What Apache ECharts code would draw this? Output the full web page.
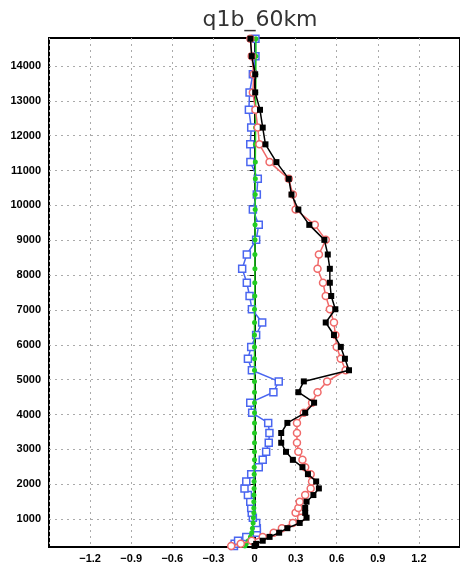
<!DOCTYPE html>
<html>
<head>
<meta charset="utf-8">
<script src="https://cdn.jsdelivr.net/npm/echarts@6/dist/echarts.min.js"></script>
<style>
  html, body { margin: 0; padding: 0; background: #fff; }
  #chart { width: 460px; height: 569px; }
</style>
</head>
<body>
<div id="chart"></div>
<script>
// model levels (m), bottom to top
var heights = [230, 290, 380, 490, 610, 740, 890, 1040, 1180, 1320, 1500, 1690, 1880, 2080, 2290, 2490, 2700, 2930, 3190, 3470, 3760, 4050, 4340, 4640, 4950, 5270, 5600, 5940, 6280, 6640, 7020, 7400, 7780, 8180, 8590, 9010, 9440, 9880, 10310, 10760, 11240, 11750, 12230, 12740, 13240, 13760, 14280, 14780];

var blackVals = [0.0, 0.012, 0.06, 0.11, 0.18, 0.24, 0.33, 0.38, 0.37, 0.37, 0.38, 0.43, 0.47, 0.45, 0.39, 0.35, 0.28, 0.23, 0.195, 0.195, 0.24, 0.37, 0.435, 0.32, 0.36, 0.69, 0.66, 0.63, 0.58, 0.52, 0.59, 0.56, 0.55, 0.55, 0.535, 0.51, 0.40, 0.32, 0.27, 0.25, 0.16, 0.08, 0.06, 0.04, 0.005, 0.005, -0.02, -0.03];
var redVals = [-0.17, -0.10, -0.02, 0.06, 0.14, 0.2, 0.28, 0.34, 0.30, 0.32, 0.33, 0.37, 0.41, 0.42, 0.41, 0.37, 0.35, 0.32, 0.31, 0.31, 0.31, 0.36, 0.42, 0.46, 0.53, 0.665, 0.63, 0.60, 0.59, 0.58, 0.55, 0.52, 0.50, 0.46, 0.47, 0.52, 0.44, 0.30, 0.28, 0.25, 0.11, 0.036, 0.024, 0.007, -0.012, -0.005, -0.02, -0.03];
var blueVals = [-0.15, -0.145, -0.12, -0.06, 0.017, 0.017, 0.012, -0.012, -0.02, -0.024, -0.031, -0.048, -0.073, -0.06, -0.024, 0.031, 0.06, 0.085, 0.104, 0.109, 0.1, -0.017, -0.031, 0.138, 0.177, -0.019, -0.048, -0.024, 0.012, 0.056, -0.019, -0.036, -0.056, -0.09, -0.056, 0.012, 0.031, -0.012, 0.017, 0.024, -0.03, -0.031, -0.024, -0.041, -0.036, -0.012, 0.007, 0.007];
var greenVals = [-0.07, -0.06, -0.045, -0.03, -0.02, -0.015, -0.01, -0.008, -0.005, -0.005, -0.005, -0.004, -0.003, -0.003, -0.002, -0.002, 0.0, 0.0, 0.0, 0.0, 0.0, 0.0, 0.0, 0.0, 0.0, 0.0, 0.0, 0.0, 0.0, 0.0, 0.0, 0.002, 0.002, 0.003, 0.003, 0.004, 0.004, 0.005, 0.005, 0.006, 0.006, 0.007, 0.008, 0.008, 0.009, 0.01, 0.01, 0.01];

var xTicks = [-1.5, 1.5, 0.3];
var yTickValues = [1000, 2000, 3000, 4000, 5000, 6000, 7000, 8000, 9000, 10000, 11000, 12000, 13000, 14000];

function pairs(vals) {
  var out = [];
  for (var i = 0; i < heights.length; i++) {
    out.push([vals[i], heights[i]]);
  }
  return out;
}

var chart = echarts.init(document.getElementById("chart"));
var labelStyle = {
  color: "#000",
  fontSize: 11,
  fontWeight: "bold",
  fontFamily: "Liberation Sans"
};
var option = {
  animation: false,
  title: {
    text: "q1b_60km",
    left: 255,
    textAlign: "center",
    top: 4,
    textStyle: {
      color: "#333",
      fontSize: 22,
      fontWeight: "normal",
      fontFamily: "DejaVu Sans"
    }
  },
  grid: {
    left: 49,
    top: 38,
    right: -2,
    bottom: 22,
    show: true,
    borderColor: "#000",
    borderWidth: 2,
    containLabel: false
  },
  xAxis: {
    type: "value",
    min: xTicks[0],
    max: xTicks[1],
    interval: xTicks[2],
    axisLine: { show: true, lineStyle: { color: "#000", width: 2 } },
    axisTick: { show: false },
    axisLabel: Object.assign({
      margin: 6,
      showMinLabel: false,
      showMaxLabel: false,
      formatter: function (v) {
        var s = Math.abs(v) < 1e-9 ? "0" : v.toFixed(1);
        return s.replace("-", "\u2212");
      }
    }, labelStyle),
    splitLine: {
      show: true,
      lineStyle: { color: "#aaa", type: [2, 4], width: 1 }
    }
  },
  yAxis: {
    type: "value",
    min: 200,
    max: 14800,
    axisLine: { show: true, lineStyle: { color: "#000", width: 2 } },
    axisTick: {
      show: true,
      length: 5,
      customValues: yTickValues,
      lineStyle: { color: "#000", width: 1 }
    },
    axisLabel: Object.assign({
      margin: 8,
      customValues: yTickValues,
      formatter: function (v) { return String(v); }
    }, labelStyle),
    splitLine: {
      show: true,
      lineStyle: { color: "#aaa", type: [2, 4], width: 1 }
    }
  },
  series: [
    {
      name: "blue",
      type: "line",
      data: pairs(blueVals),
      symbol: "rect",
      symbolSize: 7,
      lineStyle: { color: "#4a66f0", width: 1.5 },
      itemStyle: { color: "#fff", borderColor: "#4a66f0", borderWidth: 1.5 },
      z: 2
    },
    {
      name: "green",
      type: "line",
      data: pairs(greenVals),
      symbol: "circle",
      symbolSize: 5,
      lineStyle: { color: "#22cc22", width: 1.5 },
      itemStyle: { color: "#22cc22", borderWidth: 0 },
      z: 3
    },
    {
      name: "red",
      type: "line",
      data: pairs(redVals),
      symbol: "circle",
      symbolSize: 7,
      lineStyle: { color: "#f06a6a", width: 1.5 },
      itemStyle: { color: "#fff", borderColor: "#f06a6a", borderWidth: 1.5 },
      z: 4
    },
    {
      name: "black",
      type: "line",
      data: pairs(blackVals),
      symbol: "rect",
      symbolSize: 6,
      lineStyle: { color: "#000", width: 1.5 },
      itemStyle: { color: "#000", borderWidth: 0 },
      z: 5
    }
  ]
};
chart.setOption(option);
</script>
</body>
</html>
